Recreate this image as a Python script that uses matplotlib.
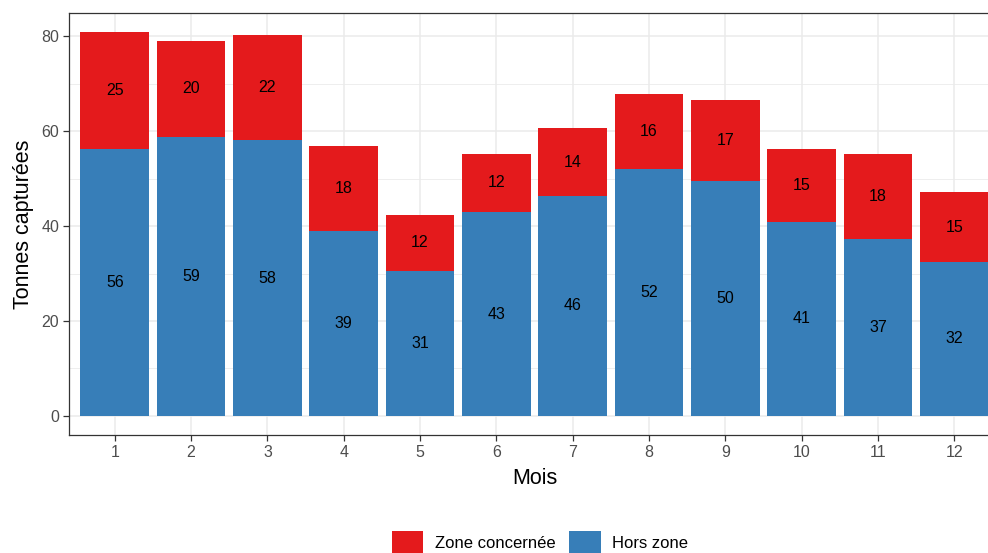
import numpy as np
import matplotlib.pyplot as plt
from matplotlib.patches import Patch

plt.rcParams['font.family'] = ['Liberation Sans', 'DejaVu Sans']

mois = np.arange(1, 13)
hors_zone = [56.3, 58.8, 58.1, 38.9, 30.6, 42.9, 46.4, 52.1, 49.6, 40.9, 37.2, 32.4]
zone = [24.6, 20.3, 22.2, 18.1, 11.7, 12.4, 14.2, 15.8, 16.9, 15.4, 18.1, 14.7]
series = ["Zone concernée", "Hors zone"]
colors = ["#E41A1C", "#377EB8"]

fig = plt.figure(figsize=(9.88, 5.53), dpi=100)
# panel runs a bit past the right edge, like the cropped original
ax = fig.add_axes([69 / 988, 1 - 435 / 553, 931 / 988, 422 / 553])

hz = np.array(hors_zone)
zc = np.array(zone)
ax.bar(mois, hz, width=0.9, color=colors[1], zorder=2)
ax.bar(mois, zc, width=0.9, bottom=hz, color=colors[0], zorder=2)

for x, b, r in zip(mois, hz, zc):
    ax.text(x, b / 2, f"{round(b)}", ha="center", va="center", fontsize=11.5, color="black", zorder=3)
    ax.text(x, b + r / 2, f"{round(r)}", ha="center", va="center", fontsize=11.5, color="black", zorder=3)

top = (hz + zc).max()
ax.set_xlim(0.4, 12.6)
ax.set_ylim(-0.05 * top, top * 1.05)
ax.set_xticks(mois)
ax.set_yticks([0, 20, 40, 60, 80])
ax.set_yticks([10, 30, 50, 70], minor=True)
ax.grid(True, which="major", color="#EBEBEB", linewidth=1.1, zorder=0)
ax.grid(True, which="minor", axis="y", color="#EBEBEB", linewidth=0.6, zorder=0)
ax.set_axisbelow(True)
for s in ax.spines.values():
    s.set_color("#333333")
    s.set_linewidth(0.9)
ax.tick_params(which="major", length=4, width=0.9, color="#333333",
               labelsize=11.5, labelcolor="#4D4D4D", pad=3)
ax.tick_params(which="minor", length=0)

ax.set_xlabel("Mois", fontsize=15.5, labelpad=6)
ax.set_ylabel("Tonnes capturées", fontsize=15.5, labelpad=5)

handles = [Patch(facecolor=c, edgecolor="none") for c in colors]
fig.legend(handles, series, loc="center", bbox_to_anchor=(540 / 988, 1 - 543 / 553),
           ncol=2, frameon=False, fontsize=12, handlelength=1.9, handleheight=1.8,
           handletextpad=0.7, columnspacing=0.8)

fig.savefig("out.png", dpi=100)
